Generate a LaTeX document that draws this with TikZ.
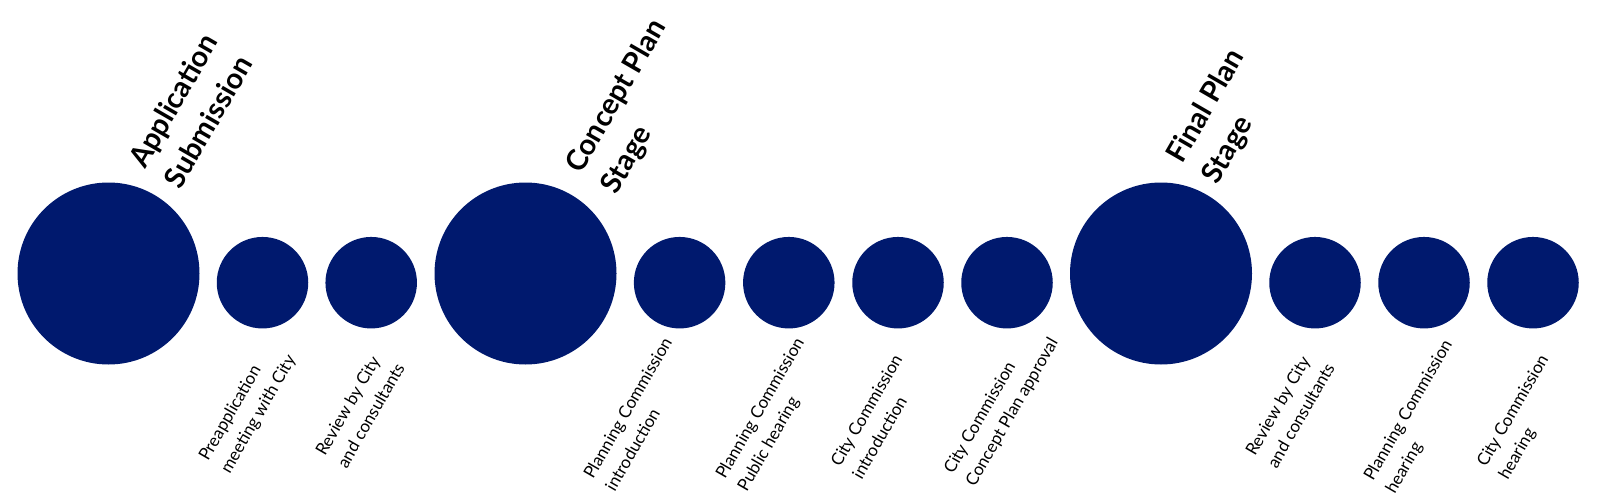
\documentclass[tikz,border=0pt]{standalone}
\usepackage{fontspec}
\setmainfont{Lato}
\definecolor{navy}{HTML}{00196E}
\tikzset{
  bigdot/.style={circle, fill=navy, minimum size=182pt, inner sep=0pt},
  smalldot/.style={circle, fill=navy, minimum size=91.5pt, inner sep=0pt},
  steplabel/.style={rotate=60, anchor=base west, inner sep=0pt, font=\fontsize{17}{25}\selectfont},
  stagetitle/.style={rotate=60, anchor=base west, inner sep=0pt, font=\fontsize{29}{41}\selectfont\bfseries},
}
\begin{document}
\begin{tikzpicture}[x=1pt,y=-1pt]
\useasboundingbox (0,0) rectangle (1600,500);
\node[bigdot] (b1) at (108.5,273.5) {};
\node[smalldot] (s1) at (262.5,282.7) {};
\node[smalldot] (s2) at (371.2,282.7) {};
\node[bigdot] (b2) at (525.5,273.5) {};
\node[smalldot] (s3) at (679.6,282.7) {};
\node[smalldot] (s4) at (788.8,282.7) {};
\node[smalldot] (s5) at (898,282.7) {};
\node[smalldot] (s6) at (1007,282.7) {};
\node[bigdot] (b3) at (1161,273.5) {};
\node[smalldot] (s7) at (1315,282.7) {};
\node[smalldot] (s8) at (1424,282.7) {};
\node[smalldot] (s9) at (1533,282.7) {};

\node[stagetitle] (t1) at (145,170) {\begin{tabular}[t]{@{}l@{}}Application\\Submission\end{tabular}};
\node[stagetitle] (t2) at (581,175) {\begin{tabular}[t]{@{}l@{}}Concept Plan\\Stage\end{tabular}};
\node[stagetitle] (t3) at (1182,165) {\begin{tabular}[t]{@{}l@{}}Final Plan\\Stage\end{tabular}};

\node[steplabel] (l1) at (208,462) {\begin{tabular}[t]{@{}l@{}}Preapplication\\meeting with City\end{tabular}};
\node[steplabel] (l2) at (325,457) {\begin{tabular}[t]{@{}l@{}}Review by City\\and consultants\end{tabular}};
\node[steplabel] (l3) at (593,480) {\begin{tabular}[t]{@{}l@{}}Planning Commission\\introduction\end{tabular}};
\node[steplabel] (l4) at (725,480) {\begin{tabular}[t]{@{}l@{}}Planning Commission\\Public hearing\end{tabular}};
\node[steplabel] (l5) at (840,468) {\begin{tabular}[t]{@{}l@{}}City Commission\\introduction\end{tabular}};
\node[steplabel] (l6) at (953,475) {\begin{tabular}[t]{@{}l@{}}City Commission\\Concept Plan approval\end{tabular}};
\node[steplabel] (l7) at (1255,457) {\begin{tabular}[t]{@{}l@{}}Review by City\\and consultants\end{tabular}};
\node[steplabel] (l8) at (1373,482) {\begin{tabular}[t]{@{}l@{}}Planning Commission\\hearing\end{tabular}};
\node[steplabel] (l9) at (1486,468) {\begin{tabular}[t]{@{}l@{}}City Commission\\hearing\end{tabular}};
\end{tikzpicture}
\end{document}
